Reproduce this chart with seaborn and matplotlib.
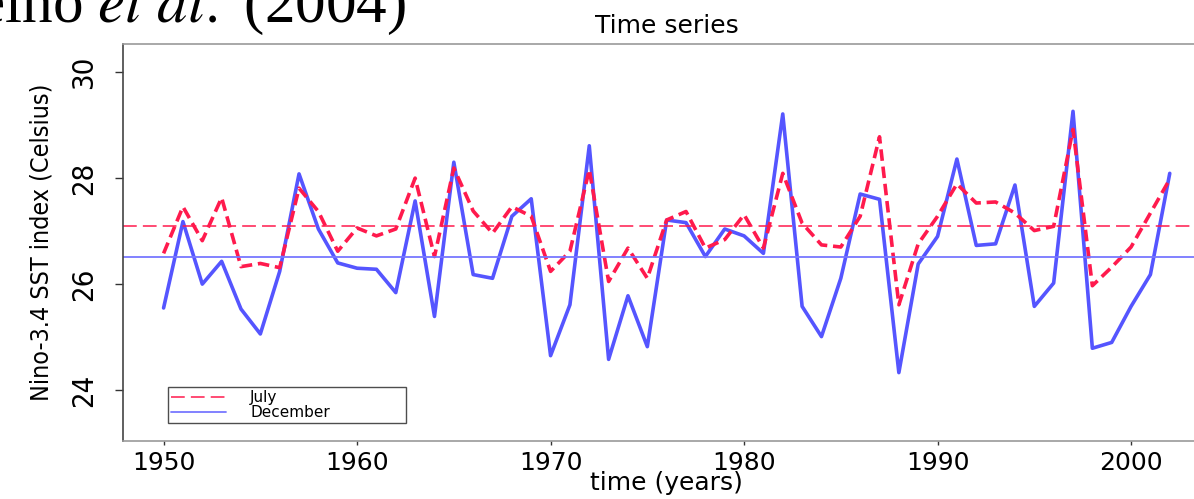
import numpy as np
import pandas as pd
import matplotlib.pyplot as plt
import seaborn as sns
from matplotlib.lines import Line2D

# Nino-3.4 SST, July and December, 1950-2002
years = list(range(1950, 2003))
july = [26.58, 27.46, 26.82, 27.63, 26.33, 26.39, 26.31, 27.81, 27.37, 26.62,
        27.06, 26.91, 27.04, 28.00, 26.52, 28.19, 27.38, 26.96, 27.46, 27.28,
        26.24, 26.62, 28.16, 26.05, 26.68, 26.11, 27.21, 27.37, 26.68, 26.84,
        27.31, 26.68, 28.09, 27.15, 26.74, 26.70, 27.28, 28.78, 25.61, 26.76,
        27.28, 27.89, 27.53, 27.55, 27.34, 27.01, 27.09, 28.92, 25.97, 26.32,
        26.70, 27.34, 27.98]
december = [25.55, 27.18, 26.00, 26.43, 25.53, 25.06, 26.24, 28.08, 27.04, 26.40,
            26.30, 26.28, 25.84, 27.57, 25.39, 28.30, 26.18, 26.11, 27.28, 27.61,
            24.65, 25.61, 28.61, 24.58, 25.78, 24.82, 27.21, 27.16, 26.52, 27.04,
            26.91, 26.58, 29.21, 25.58, 25.01, 26.11, 27.70, 27.60, 24.33, 26.38,
            26.90, 28.36, 26.73, 26.76, 27.87, 25.58, 26.02, 29.26, 24.79, 24.90,
            25.58, 26.18, 28.09]
july_mean = 27.10
december_mean = 26.51

red = '#ff1a4d'
blue = '#5555ff'

df = pd.DataFrame({'year': years, 'July': july, 'December': december})

sns.set_style('white')
plt.rcParams['font.family'] = ['DejaVu Sans']
plt.rcParams['mathtext.fontset'] = 'stix'
plt.rcParams['text.color'] = 'black'
plt.rcParams['xtick.color'] = 'black'
plt.rcParams['ytick.color'] = 'black'
plt.rcParams['axes.labelcolor'] = 'black'

fig = plt.figure(figsize=(11.94, 4.99), dpi=100)
ax = fig.add_axes([0.1033, 0.1162, 0.9101, 0.7956])

sns.lineplot(data=df, x='year', y='December', color=blue, lw=2.6, ax=ax)
sns.lineplot(data=df, x='year', y='July', color=red, lw=2.6, ax=ax,
             dashes=False, linestyle=(0, (3.2, 1.6)))
ax.axhline(july_mean, color=red, lw=1.1, dashes=(9, 4))
ax.axhline(december_mean, color='#7777ff', lw=1.3)

ax.set_xlim(1947.92, 2004.08)
ax.set_ylim(23.04, 30.53)
ax.set_xticks([1950, 1960, 1970, 1980, 1990, 2000])
ax.set_yticks([24, 26, 28, 30])

ax.spines['right'].set_visible(False)
ax.spines['top'].set_color('#999999')
ax.spines['bottom'].set_color('#999999')
ax.spines['left'].set_color('#444444')
for s in ['top', 'bottom', 'left']:
    ax.spines[s].set_linewidth(1.2)

ax.tick_params(axis='x', direction='out', length=3, width=1, color='#333333',
               labelsize=18, pad=4, bottom=True)
ax.tick_params(axis='y', direction='out', length=6, width=1, color='#333333',
               pad=12, left=True)
for lab in ax.get_yticklabels():
    lab.set_fontstretch('condensed')
    lab.set_fontsize(21)
    lab.set_rotation(90)
    lab.set_va('center')

ax.set_xlabel('time (years)', fontsize=18, labelpad=-3)
ax.set_ylabel('Nino-3.4 SST index (Celsius)', fontsize=18,
              fontstretch='condensed')
ax.yaxis.set_label_coords(-0.0647, 0.5)
ax.set_title('Time series', fontsize=18, pad=8)

handles = [Line2D([], [], color=red, lw=1.1, dashes=(9, 4)),
           Line2D([], [], color='#7777ff', lw=1.3)]
leg = ax.legend(handles, ['July', 'December'], loc='lower left',
                bbox_to_anchor=(0.0409, 0.0446, 0.219, 0.095), mode='expand',
                borderaxespad=0, fontsize=11, handlelength=3.6,
                handletextpad=1.6, labelspacing=0.0, borderpad=0.2,
                fancybox=False, frameon=True)
leg.get_frame().set_edgecolor('#222222')
leg.get_frame().set_linewidth(1.0)

fig.text(406 / 1194, 1 - 22 / 499, r'Coelho $\mathit{et\ al.}$ (2004)',
         ha='right', va='baseline', fontsize=44, family='Liberation Serif')

fig.savefig('out.png', dpi=100)
